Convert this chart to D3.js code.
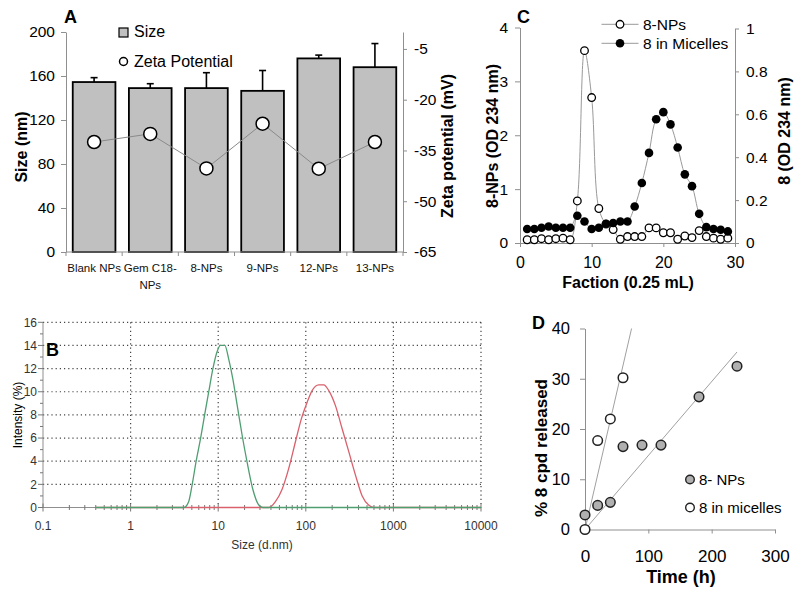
<!DOCTYPE html>
<html><head><meta charset="utf-8">
<script src="https://cdn.jsdelivr.net/npm/d3@7"></script>
<style>body{margin:0;background:#fff}svg{display:block}text{font-family:Arial,"Liberation Sans",Helvetica,sans-serif}</style>
</head><body><svg id="c" width="800" height="595"></svg>
<script>
// ---------- Panel A data ----------
const categoriesA = ["Blank NPs", "Gem C18-\nNPs", "8-NPs", "9-NPs", "12-NPs", "13-NPs"];
const sizeMean = [154.5, 149, 149, 146.5, 176, 168];
const sizeErr = [4, 4, 14, 18.5, 3, 21.5];
const zetaPotential = [-32.5, -30.1, -40.3, -27.1, -40.4, -32.5];
const sizeTicks = [0, 40, 80, 120, 160, 200];
const zetaTicks = [-65, -50, -35, -20, -5];

// ---------- Panel B data ----------
const dlsTicks = [0.1, 1, 10, 100, 1000, 10000];
const intensityTicks = [0, 2, 4, 6, 8, 10, 12, 14, 16];
const smallSize = [0.4, 4.05, 4.6, 5.05, 5.6, 6.3, 7.0, 7.8, 8.7, 9.75, 10.6, 11.9, 13.2, 14.7, 16.5, 18.8, 21.4, 24.8, 28.6, 32.3, 10000];
const smallIntensity = [0, 0, 0.5, 2, 4, 6, 8, 10, 12, 13.5, 14, 14, 12.8, 11.1, 8.8, 6.2, 3.9, 1.6, 0.3, 0, 0];
const largeSize = [0.4, 37.8, 45, 53.8, 64, 76.3, 89.3, 103.7, 118, 140.7, 160.5, 183, 218, 260, 310, 369, 440, 525, 599, 10000];
const largeIntensity = [0, 0, 0.5, 1.6, 3.4, 5.7, 7.7, 9.1, 10.1, 10.6, 10.6, 10.1, 8.8, 6.8, 4.8, 2.8, 1.0, 0.2, 0, 0];

// ---------- Panel C data ----------
const fractions = [1,2,3,4,5,6,7,8,9,10,11,12,13,14,15,16,17,18,19,20,21,22,23,24,25,26,27,28,29];
const npOD = [0.06,0.06,0.08,0.06,0.08,0.09,0.06,0.78,3.57,2.7,0.64,0.35,0.25,0.07,0.12,0.12,0.12,0.28,0.28,0.19,0.19,0.07,0.13,0.10,0.23,0.12,0.09,0.07,0.09];
const micelleOD = [0.065,0.065,0.071,0.077,0.071,0.071,0.071,0.127,0.10,0.065,0.071,0.09,0.093,0.10,0.10,0.17,0.28,0.42,0.577,0.61,0.553,0.445,0.32,0.265,0.136,0.074,0.065,0.062,0.054];
const fractionTicks = [0, 10, 20, 30];
const odLeftTicks = [0, 1, 2, 3, 4];
const odRightTicks = [0, 0.2, 0.4, 0.6, 0.8, 1];

// ---------- Panel D data ----------
const timeNP = [0, 20, 40, 60, 90, 120, 180, 240];
const releaseNP = [2.9, 4.8, 5.4, 16.5, 16.8, 16.8, 26.4, 32.5];
const timeMic = [0, 20, 40, 60];
const releaseMic = [0, 17.7, 22, 30.2];
const timeTicks = [0, 100, 200, 300];
const releaseTicks = [0, 10, 20, 30, 40];

const svg = d3.select("#c");
const AX = "#8f8f8f";
function styleAxis(g, size, color) {
  g.select(".domain").attr("stroke", AX);
  g.selectAll(".tick line").attr("stroke", AX);
  g.selectAll(".tick text").attr("fill", color || "#000").attr("font-size", size)
    .attr("font-family", 'Arial,"Liberation Sans",sans-serif');
}
function vLabel(x, y, txt, size, weight) {
  svg.append("text").attr("transform", `translate(${x},${y}) rotate(-90)`)
    .attr("text-anchor", "middle").attr("dy", "0.35em")
    .attr("font-size", size).attr("font-weight", weight || "bold").text(txt);
}
function label(x, y, txt, size, weight, anchor) {
  return svg.append("text").attr("x", x).attr("y", y).attr("font-size", size)
    .attr("font-weight", weight || "normal").attr("text-anchor", anchor || "start").text(txt);
}

// ================= PANEL A =================
{
  const xA = d3.scaleBand().domain(categoriesA).range([66, 403]).paddingInner(0.24).paddingOuter(0.12);
  const yA = d3.scaleLinear().domain([0, 200]).range([252, 32]);
  const yZ = d3.scaleLinear().domain([-65, 0]).range([252, 32]);
  const bw = xA.bandwidth();
  const g = svg.append("g");
  categoriesA.forEach((c, i) => {
    const cx = xA(c) + bw / 2;
    g.append("line").attr("x1", cx).attr("x2", cx).attr("y1", yA(sizeMean[i])).attr("y2", yA(sizeMean[i] + sizeErr[i]))
      .attr("stroke", "#000").attr("stroke-width", 1.6);
    g.append("line").attr("x1", cx - 3.5).attr("x2", cx + 3.5).attr("y1", yA(sizeMean[i] + sizeErr[i])).attr("y2", yA(sizeMean[i] + sizeErr[i]))
      .attr("stroke", "#000").attr("stroke-width", 1.6);
  });
  g.selectAll("rect.bar").data(categoriesA).join("rect").attr("class", "bar")
    .attr("x", d => xA(d)).attr("y", (d, i) => yA(sizeMean[i]))
    .attr("width", bw).attr("height", (d, i) => yA(0) - yA(sizeMean[i]))
    .attr("fill", "#c0c0c0").attr("stroke", "#000").attr("stroke-width", 1.8);
  const la = svg.append("g").attr("transform", "translate(66,0)")
    .call(d3.axisLeft(yA).tickValues(sizeTicks).tickSize(5).tickPadding(6).tickSizeOuter(0).tickFormat(d => String(d)));
  styleAxis(la, 15.5);
  const ra = svg.append("g").attr("transform", "translate(403,0)")
    .call(d3.axisRight(yZ).tickValues(zetaTicks).tickSize(4).tickPadding(7).tickSizeOuter(0).tickFormat(d => String(d)));
  styleAxis(ra, 15.5);
  svg.append("line").attr("x1", 66).attr("x2", 403).attr("y1", 252).attr("y2", 252).attr("stroke", AX);
  const step = xA.step();
  categoriesA.forEach((c, i) => {
    const ex = xA(c) - step * 0.12;
    svg.append("line").attr("x1", ex).attr("x2", ex).attr("y1", 252).attr("y2", 256).attr("stroke", AX);
    const t = svg.append("text").attr("text-anchor", "middle").attr("font-size", 11.5).attr("fill", "#111");
    c.split("\n").forEach((ln, k) => t.append("tspan").attr("x", xA(c) + bw / 2).attr("y", 272 + k * 17).text(ln));
  });
  svg.append("line").attr("x1", 403).attr("x2", 403).attr("y1", 252).attr("y2", 256).attr("stroke", AX);
  const zl = d3.line().x((d, i) => xA(categoriesA[i]) + bw / 2).y(d => yZ(d));
  svg.append("path").attr("d", zl(zetaPotential)).attr("fill", "none").attr("stroke", "#8a8a8a").attr("stroke-width", 1);
  svg.selectAll("circle.zeta").data(zetaPotential).join("circle").attr("class", "zeta")
    .attr("cx", (d, i) => xA(categoriesA[i]) + bw / 2).attr("cy", d => yZ(d)).attr("r", 6.5)
    .attr("fill", "#fff").attr("stroke", "#000").attr("stroke-width", 1.5);
  svg.append("rect").attr("x", 119).attr("y", 28).attr("width", 9).attr("height", 9).attr("fill", "#c0c0c0").attr("stroke", "#000").attr("stroke-width", 1.2);
  label(134, 37, "Size", 16);
  svg.append("circle").attr("cx", 123.5).attr("cy", 61.5).attr("r", 4).attr("fill", "#fff").attr("stroke", "#000").attr("stroke-width", 1.5);
  label(134, 66.5, "Zeta Potential", 16);
  label(64, 23, "A", 18, "bold");
  vLabel(21, 147, "Size (nm)", 16);
  vLabel(447, 146, "Zeta potential (mV)", 16);
}

// ================= PANEL B =================
{
  const xB = d3.scaleLog().domain([0.1, 10000]).range([43, 481]);
  const yB = d3.scaleLinear().domain([0, 16]).range([507.5, 322.3]);
  const g = svg.append("g");
  intensityTicks.filter(v => v > 0).forEach(v => {
    g.append("line").attr("x1", 43).attr("x2", 481).attr("y1", yB(v)).attr("y2", yB(v))
      .attr("stroke", "#444").attr("stroke-width", 1.2).attr("stroke-dasharray", "1.2,3");
  });
  dlsTicks.filter(v => v > 0.1).forEach(v => {
    g.append("line").attr("x1", xB(v)).attr("x2", xB(v)).attr("y1", 322.3).attr("y2", 507.5)
      .attr("stroke", "#444").attr("stroke-width", 1.2).attr("stroke-dasharray", "1.2,3");
  });
  g.append("line").attr("x1", 43).attr("x2", 43).attr("y1", 322.3).attr("y2", 507.5).attr("stroke", AX);
  g.append("line").attr("x1", 43).attr("x2", 481).attr("y1", 507.5).attr("y2", 507.5).attr("stroke", AX);
  yB.ticks(16).forEach(v => {
    const major = intensityTicks.includes(v);
    g.append("line").attr("x1", 43 - (major ? 5 : 3)).attr("x2", 43).attr("y1", yB(v)).attr("y2", yB(v)).attr("stroke", "#777");
  });
  intensityTicks.forEach(v => {
    g.append("text").attr("x", 37).attr("y", yB(v)).attr("dy", "0.35em").attr("text-anchor", "end")
      .attr("font-size", 12).attr("fill", "#333").text(v);
  });
  dlsTicks.forEach((d, k) => {
    g.append("line").attr("x1", xB(d)).attr("x2", xB(d)).attr("y1", 503.5).attr("y2", 511.5).attr("stroke", "#777");
    g.append("text").attr("x", xB(d)).attr("y", 530).attr("text-anchor", "middle").attr("font-size", 12).attr("fill", "#333").text(String(d));
    if (k < dlsTicks.length - 1) {
      for (let m = 2; m <= 9; m++) {
        const xv = xB(d * m);
        g.append("line").attr("x1", xv).attr("x2", xv).attr("y1", 505).attr("y2", 510).attr("stroke", "#777");
      }
    }
  });
  const ln = d3.line().x(d => xB(d[0])).y(d => yB(d[1])).curve(d3.curveMonotoneX);
  g.append("path").attr("d", ln(largeSize.map((s, i) => [s, largeIntensity[i]])))
    .attr("fill", "none").attr("stroke", "#d9606c").attr("stroke-width", 1.3);
  g.append("path").attr("d", ln(smallSize.map((s, i) => [s, smallIntensity[i]])))
    .attr("fill", "none").attr("stroke", "#4f9e72").attr("stroke-width", 1.3);
  label(262, 549, "Size (d.nm)", 12, "normal", "middle").attr("fill", "#333");
  vLabel(18, 415, "Intensity (%)", 12, "normal");
  label(46, 356, "B", 18, "bold");
}

// ================= PANEL C =================
{
  const xC = d3.scaleLinear().domain([0, 30]).range([520, 735]);
  const yL = d3.scaleLinear().domain([0, 4]).range([243, 27.5]);
  const yR = d3.scaleLinear().domain([0, 1]).range([243, 28.5]);
  const la = svg.append("g").attr("transform", "translate(520,0)")
    .call(d3.axisLeft(yL).tickValues(odLeftTicks).tickSize(5).tickPadding(7).tickSizeOuter(0).tickFormat(d => String(d)));
  styleAxis(la, 15.5);
  const ra = svg.append("g").attr("transform", "translate(735,0)")
    .call(d3.axisRight(yR).tickValues(odRightTicks).tickSize(4).tickPadding(7).tickSizeOuter(0).tickFormat(d => String(d)));
  styleAxis(ra, 15.5);
  const ba = svg.append("g").attr("transform", "translate(0,243)")
    .call(d3.axisBottom(xC).tickValues(fractionTicks).tickSize(4).tickPadding(10).tickSizeOuter(0).tickFormat(d => String(d)));
  styleAxis(ba, 16);
  const curve = d3.curveCatmullRom.alpha(0.5);
  const lnL = d3.line().x((d, i) => xC(fractions[i])).y(d => yL(d)).curve(curve);
  const lnR = d3.line().x((d, i) => xC(fractions[i])).y(d => yR(d)).curve(curve);
  svg.append("path").attr("d", lnL(npOD)).attr("fill", "none").attr("stroke", "#999").attr("stroke-width", 1);
  svg.append("path").attr("d", lnR(micelleOD)).attr("fill", "none").attr("stroke", "#999").attr("stroke-width", 1);
  svg.selectAll("circle.np").data(npOD).join("circle").attr("class", "np")
    .attr("cx", (d, i) => xC(fractions[i])).attr("cy", d => yL(d)).attr("r", 3.8)
    .attr("fill", "#fff").attr("stroke", "#000").attr("stroke-width", 1.3);
  svg.selectAll("circle.mic").data(micelleOD).join("circle").attr("class", "mic")
    .attr("cx", (d, i) => xC(fractions[i])).attr("cy", d => yR(d)).attr("r", 4.3)
    .attr("fill", "#000");
  [[24.3, "8-NPs", false], [43.3, "8 in Micelles", true]].forEach(([y, t, filled]) => {
    svg.append("line").attr("x1", 601.5).attr("x2", 638.5).attr("y1", y).attr("y2", y).attr("stroke", "#999");
    svg.append("circle").attr("cx", 620).attr("cy", y).attr("r", filled ? 4.3 : 3.8)
      .attr("fill", filled ? "#000" : "#fff").attr("stroke", "#000").attr("stroke-width", filled ? 0 : 1.3);
    label(643, y + 5.5, t, 15.5);
  });
  label(517, 23, "C", 18, "bold");
  label(628, 288, "Faction (0.25 mL)", 16, "bold", "middle");
  vLabel(492, 136, "8-NPs (OD 234 nm)", 16);
  vLabel(784, 131, "8 (OD 234 nm)", 16);
}

// ================= PANEL D =================
{
  const xD = d3.scaleLinear().domain([0, 300]).range([585, 775]);
  const yD = d3.scaleLinear().domain([0, 40]).range([529.5, 328.5]);
  const la = svg.append("g").attr("transform", "translate(585,0)")
    .call(d3.axisLeft(yD).tickValues(releaseTicks).tickSize(5).tickPadding(10).tickSizeOuter(0).tickFormat(d => String(d)));
  styleAxis(la, 16.5);
  const ba = svg.append("g").attr("transform", "translate(0,529.5)")
    .call(d3.axisBottom(xD).tickValues(timeTicks).tickSize(4).tickPadding(16).tickSizeOuter(0).tickFormat(d => String(d)));
  styleAxis(ba, 17);
  function slope(xs, ys) {
    return d3.sum(xs, (x, i) => x * ys[i]) / d3.sum(xs, x => x * x);
  }
  const sNP = slope(timeNP, releaseNP);
  const sMic = slope(timeMic, releaseMic);
  const tEndNP = d3.max(timeNP);
  const tEndMic = yD.domain()[1] / sMic;
  const tl = d3.line().x(d => xD(d[0])).y(d => yD(d[1]));
  svg.append("path").attr("d", tl([[0, 0], [tEndNP, sNP * tEndNP]])).attr("stroke", "#a0a0a0").attr("stroke-width", 1).attr("fill", "none");
  svg.append("path").attr("d", tl([[0, 0], [tEndMic, sMic * tEndMic]])).attr("stroke", "#a0a0a0").attr("stroke-width", 1).attr("fill", "none");
  svg.selectAll("circle.dnp").data(releaseNP).join("circle").attr("class", "dnp")
    .attr("cx", (d, i) => xD(timeNP[i])).attr("cy", d => yD(d)).attr("r", 4.8)
    .attr("fill", "#b0b0b0").attr("stroke", "#222").attr("stroke-width", 1.5);
  svg.selectAll("circle.dmic").data(releaseMic).join("circle").attr("class", "dmic")
    .attr("cx", (d, i) => xD(timeMic[i])).attr("cy", d => yD(d)).attr("r", 4.8)
    .attr("fill", "#fff").attr("stroke", "#222").attr("stroke-width", 1.5);
  svg.append("circle").attr("cx", 690).attr("cy", 479.5).attr("r", 4.3).attr("fill", "#b0b0b0").attr("stroke", "#222").attr("stroke-width", 1.4);
  label(699, 485, "8- NPs", 15);
  svg.append("circle").attr("cx", 690).attr("cy", 507.5).attr("r", 4.3).attr("fill", "#fff").attr("stroke", "#222").attr("stroke-width", 1.4);
  label(699, 513, "8 in micelles", 15);
  label(532, 329, "D", 18, "bold");
  label(681, 583, "Time (h)", 18, "bold", "middle");
  vLabel(541, 448, "% 8 cpd released", 17);
}
</script>
</body></html>
